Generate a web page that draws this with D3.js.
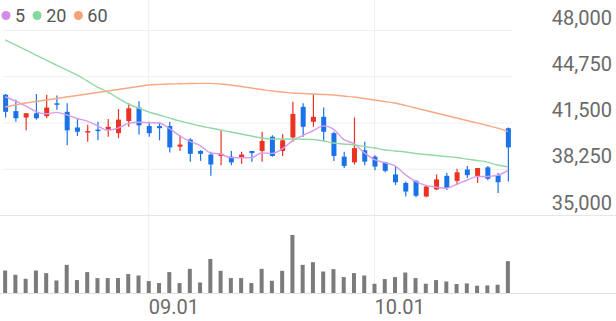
<!DOCTYPE html>
<html>
<head>
<meta charset="utf-8">
<script src="https://cdn.jsdelivr.net/npm/d3@7"></script>
<style>
  html, body { margin: 0; padding: 0; background: #fff; }
  svg { display: block; font-family: Roboto, "Noto Sans", sans-serif; }
</style>
</head>
<body>
<svg id="chart" width="616" height="321"></svg>
<script>
// trading days (categories)
const dates = [
  "08.12","08.13","08.16","08.17","08.18","08.19","08.20","08.23","08.24","08.25","08.26","08.27","08.30","08.31",
  "09.01","09.02","09.03","09.06","09.07","09.08","09.09","09.10","09.13","09.14","09.15","09.16","09.17","09.20",
  "09.21","09.22","09.23","09.24","09.27","09.28","09.29","09.30",
  "10.01","10.04","10.05","10.06","10.07","10.08","10.11","10.12","10.13","10.14","10.15","10.18","10.19","10.20"
];

const openP = [43450,42300,41850,42150,41950,42850,42250,41150,40800,41000,41000,40750,41600,42550,41250,41250,41250,39800,40300,39500,
  39250,39150,39100,39000,39500,39500,40500,39500,40450,42600,41550,41900,40750,39100,38700,39550,39100,38700,37850,37250,
  37400,36300,36800,37750,37400,38200,37750,38350,37800,41100];
const highP = [43500,43100,42150,43500,43450,43400,42850,41800,41350,41550,41750,42450,42850,43000,41550,41500,41550,40600,40400,39550,
  39450,40950,39500,39450,39500,40850,40600,40700,42950,42850,43450,42550,40850,39450,41850,40150,39200,38750,38400,37350,
  37450,37100,37850,37950,38250,38450,38300,38450,37950,41150];
const lowP = [41850,41550,40950,41700,41800,42400,39900,40550,40150,40250,40500,40400,41200,40650,40500,40250,39400,39500,38750,38800,
  37750,38500,38500,38600,38750,38750,39100,39150,40150,40500,41200,40200,38800,38300,38550,38500,38150,38000,37100,36300,
  36250,36250,36750,36750,37100,37600,37250,37450,36550,37350];
const closeP = [42250,41800,42150,41800,42550,42750,40950,40850,40900,40900,41200,41700,42500,41300,40750,41100,39750,39950,39300,39300,
  38550,39300,38700,39250,39350,40200,39150,40250,42100,41200,41900,40850,39150,38450,39700,38750,38400,38100,37300,36650,
  36350,37000,37500,36900,38000,37800,38300,37550,37300,39750];

// moving averages
const ma5 = [43310,43010,42660,42270,42110,42210,42040,41780,41600,41270,40960,41110,41440,41520,41490,41470,41080,40570,40170,39880,
  39370,39280,39030,39020,39030,39360,39330,39640,40210,40580,40920,41260,41040,40310,40010,39380,38890,38680,38450,37840,
  37360,37080,36960,36880,37150,37440,37700,37710,37790,38140];
const ma20 = [47300,46950,46600,46240,45890,45540,45190,44840,44420,43990,43640,43220,42800,42520,42240,42030,41820,41610,41430,41250,
  41110,40970,40830,40690,40550,40410,40340,40340,40340,40320,40310,40200,40060,39990,39920,39810,39710,39570,39500,39430,
  39320,39250,39180,39110,39040,38930,38830,38720,38510,38390];
const ma60 = [42590,42730,42870,42980,43080,43190,43290,43400,43500,43610,43710,43820,43920,44030,44140,44180,44210,44220,44240,44250,
  44250,44210,44140,44030,43920,43820,43710,43640,43570,43540,43500,43470,43430,43360,43290,43190,43080,42980,42870,42700,
  42520,42340,42170,41990,41820,41640,41470,41290,41110,40870];

// volume (thousand shares)
const volume = [226,183,143,226,200,126,283,130,210,150,150,150,190,176,120,100,210,100,243,106,
  343,223,150,150,100,243,123,223,583,283,310,216,240,160,200,176,93,140,160,206,
  150,93,130,116,90,96,73,76,83,320];

const priceTicks = [35000, 38250, 41500, 44750, 48000];
const dateTicks = ["09.01", "10.01"];
const maNames = ["5", "20", "60"];

const upColor = "#eb3323";
const downColor = "#1a72e8";
const maColors = ["#d79cec", "#93d9a4", "#f8a983"];
const dotColors = ["#cf8de8", "#86d89b", "#f6a076"];

const W = 616, H = 321;
const plotRight = 513;
const priceTop = 30, priceBottom = 215;
const volTop = 235, volBottom = 293;

const svg = d3.select("#chart");

const x = d3.scaleBand().domain(dates).range([0, plotRight]);
const cx = d => x(d) + x.bandwidth() / 2;
const y = d3.scaleLinear().domain([35000, 48000]).range([priceBottom, priceTop]);
const yVol = d3.scaleLinear().domain([0, d3.max(volume)]).range([volBottom, volTop]);

const rows = dates.map((d, i) => ({
  date: d, open: openP[i], high: highP[i], low: lowP[i], close: closeP[i],
  vol: volume[i], ma: [ma5[i], ma20[i], ma60[i]]
}));

// horizontal grid
svg.append("g")
  .attr("transform", "translate(3,0)")
  .call(d3.axisLeft(y).tickValues(priceTicks).tickSize(-(plotRight - 4)).tickFormat(""))
  .call(g => g.select(".domain").remove())
  .call(g => g.selectAll("line").attr("stroke", "#efefef"));

// vertical grid at month starts
svg.append("g")
  .selectAll("line")
  .data(dateTicks)
  .join("line")
    .attr("x1", d => cx(d)).attr("x2", d => cx(d))
    .attr("y1", 0).attr("y2", volBottom)
    .attr("stroke", "#efefef");

// panel separator + volume baseline
svg.append("line").attr("x1", 0).attr("x2", W).attr("y1", priceBottom + 0.5).attr("y2", priceBottom + 0.5)
  .attr("stroke", "#e6e6e6");
svg.append("line").attr("x1", 0).attr("x2", W).attr("y1", volBottom + 0.5).attr("y2", volBottom + 0.5)
  .attr("stroke", "#e0e0e0");

// price labels (right side)
svg.append("g")
  .attr("transform", "translate(612,0)")
  .call(d3.axisLeft(y).tickValues(priceTicks).tickSize(0).tickPadding(0).tickFormat(d3.format(",")))
  .call(g => g.select(".domain").remove())
  .call(g => g.selectAll("text")
    .attr("dy", "-0.3em")
    .attr("fill", "#6a6a6a")
    .attr("font-size", 20)
    .attr("font-family", "Roboto, sans-serif"));

// date labels
svg.append("g")
  .attr("transform", `translate(0,${volBottom})`)
  .call(d3.axisBottom(x).tickValues(dateTicks).tickSize(0).tickPadding(0))
  .call(g => g.select(".domain").remove())
  .call(g => g.selectAll("text")
    .attr("text-anchor", "start")
    .attr("x", 0)
    .attr("y", 21)
    .attr("dy", 0)
    .attr("fill", "#6a6a6a")
    .attr("font-size", 20)
    .attr("font-family", "Roboto, sans-serif"));

// volume bars
svg.append("g")
  .selectAll("rect")
  .data(rows)
  .join("rect")
    .attr("x", d => cx(d.date) - 2)
    .attr("width", 4)
    .attr("y", d => yVol(d.vol))
    .attr("height", d => volBottom - yVol(d.vol))
    .attr("fill", "#7b7b7b");

// candles
const candle = svg.append("g")
  .selectAll("g")
  .data(rows)
  .join("g")
    .attr("fill", d => d.close >= d.open ? upColor : downColor)
    .attr("stroke", d => d.close >= d.open ? upColor : downColor);

candle.append("line")
  .attr("x1", d => cx(d.date) + 0.5).attr("x2", d => cx(d.date) + 0.5)
  .attr("y1", d => y(d.high)).attr("y2", d => y(d.low))
  .attr("stroke-width", 1.2);

candle.append("rect")
  .attr("stroke", "none")
  .attr("x", d => cx(d.date) - 2)
  .attr("width", 5)
  .attr("y", d => y(Math.max(d.open, d.close)))
  .attr("height", d => Math.max(1.5, Math.abs(y(d.open) - y(d.close))));

// moving average lines
maNames.forEach((name, k) => {
  const line = d3.line()
    .x(d => cx(d.date))
    .y(d => y(d.ma[k]))
    .curve(d3.curveMonotoneX);
  svg.append("path")
    .datum(rows)
    .attr("d", line)
    .attr("fill", "none")
    .attr("stroke", maColors[k])
    .attr("stroke-width", 1.4);
});

// legend
let lx = 6;
const legend = svg.append("g");
maNames.forEach((name, k) => {
  legend.append("circle").attr("cx", lx).attr("cy", 15.5).attr("r", 4.5).attr("fill", dotColors[k]);
  const t = legend.append("text")
    .attr("x", lx + 9).attr("y", 21.5)
    .attr("fill", "#555")
    .attr("font-size", 18)
    .text(name);
  lx = lx + 9 + t.node().getComputedTextLength() + 12;
});
</script>
</body>
</html>
